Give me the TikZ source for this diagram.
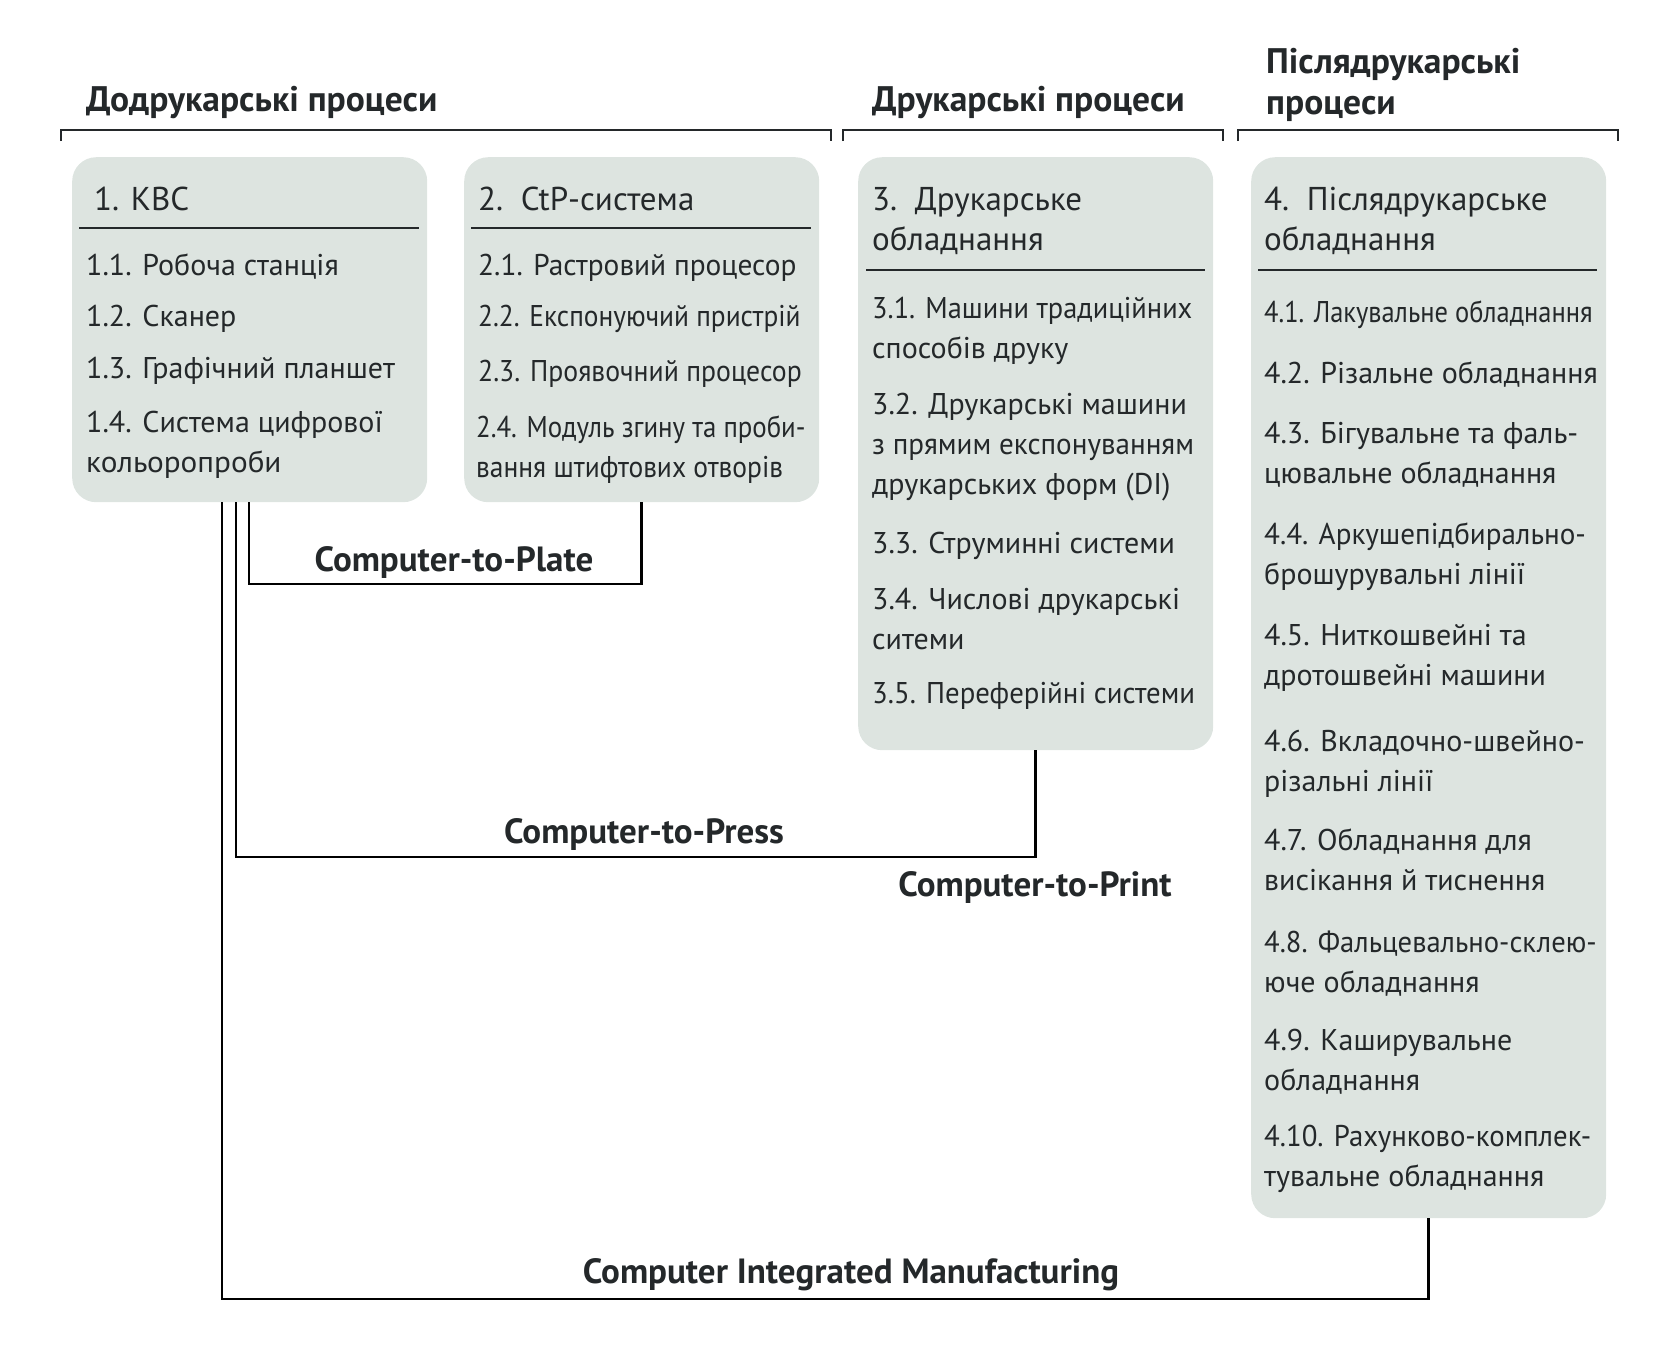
\documentclass[tikz,border=0pt]{standalone}
\usepackage{fontspec}
\usepackage{graphicx}
\setmainfont{PT Sans}
\usetikzlibrary{calc}
\definecolor{txt}{RGB}{36,40,42}
\definecolor{boxfill}{RGB}{221,228,224}
\newcommand\lns[1]{\vtop{\halign{##\hfil\cr#1\crcr}}}
\newcommand\sx[2]{\scalebox{#1}[1]{#2}}
\begin{document}
\begin{tikzpicture}[x=1pt,y=-1pt,
  box/.style={draw=none,fill=boxfill,rounded corners=24pt,anchor=north west,inner sep=0pt},
  item/.style={anchor=base west,inner sep=0pt,text=txt,font=\fontsize{30}{40}\selectfont},
  ttl/.style={anchor=base west,inner sep=0pt,text=txt,font=\fontsize{33}{40}\selectfont},
  head/.style={anchor=base west,inner sep=0pt,text=txt,font=\fontsize{35.5}{41}\selectfont\bfseries},
  lbl/.style={anchor=base,inner sep=0pt,text=txt,font=\fontsize{35}{40}\selectfont\bfseries},
  brace/.style={draw=txt,line width=1.6pt},
  rule/.style={draw=txt,line width=2.6pt},
  conn/.style={draw=black,line width=2.6pt}]
\useasboundingbox (0,0) rectangle (1676,1350);
% headings
\node[head] (h1) at (86,111) {Додрукарські процеси};
\node[head] (h2) at (872,111) {Друкарські процеси};
\node[head] (h3) at (1266,73) {\lns{Післядрукарські\cr процеси}};
\draw[brace] (61,141) -- (61,130) -- (831,130) -- (831,141);
\draw[brace] (843,141) -- (843,130) -- (1223,130) -- (1223,141);
\draw[brace] (1238,141) -- (1238,130) -- (1618,130) -- (1618,141);
% boxes
\node[box,minimum width=355pt,minimum height=345pt] (b1) at (72,157) {};
\node[box,minimum width=355pt,minimum height=345pt] (b2) at (464,157) {};
\node[box,minimum width=355pt,minimum height=593pt] (b3) at (858,157) {};
\node[box,minimum width=355pt,minimum height=1061pt] (b4) at (1251,157) {};
% box 1
\node[ttl] (t1) at (94,210) {1. КВС};
\draw[rule] (79,228) -- (419,228);
\node[item] (i11) at (86,275) {1.1. Робоча станція};
\node[item] (i12) at (86,326) {1.2. Сканер};
\node[item] (i13) at (86,378) {1.3. Графічний планшет};
\node[item] (i14) at (86,432) {\lns{1.4. Система цифрової\cr \sx{1.04}{кольоропроби}}};
% box 2
\node[ttl] (t2) at (478,210) {2.\ \ CtP-система};
\draw[rule] (471,228) -- (811,228);
\node[item] (i21) at (478,275) {\sx{0.98}{2.1. Растровий процесор}};
\node[item] (i22) at (478,326) {\sx{0.912}{2.2. Експонуючий пристрій}};
\node[item] (i23) at (478,381) {\sx{0.924}{2.3. Проявочний процесор}};
\node[item] (i24) at (476,437) {\lns{\sx{0.895}{2.4. Модуль згину та проби-}\cr \sx{0.916}{вання штифтових отворів}}};
% box 3
\node[ttl] (t3) at (872,210) {\lns{3.\ \ Друкарське\cr обладнання}};
\draw[rule] (866,270) -- (1205,270);
\node[item] (i31) at (872,318) {\lns{\sx{0.946}{3.1. Машини традиційних}\cr способів друку}};
\node[item] (i32) at (872,414) {\lns{3.2. Друкарські машини\cr \sx{0.97}{з прямим експонуванням}\cr друкарських форм (DI)}};
\node[item] (i33) at (872,553) {3.3. Струминні системи};
\node[item] (i34) at (872,609) {\lns{3.4. Числові друкарські\cr ситеми}};
\node[item] (i35) at (872,703) {\sx{0.96}{3.5. Переферійні системи}};
% box 4
\node[ttl] (t4) at (1264,210) {\lns{4.\ \ Післядрукарське\cr обладнання}};
\draw[rule] (1258,270) -- (1597,270);
\node[item] (i41) at (1264,322) {\sx{0.882}{4.1. Лакувальне обладнання}};
\node[item] (i42) at (1264,383) {4.2. Різальне обладнання};
\node[item] (i43) at (1264,443) {\lns{4.3. Бігувальне та фаль-\cr цювальне обладнання}};
\node[item] (i44) at (1264,544) {\lns{\sx{0.97}{4.4. Аркушепідбирально-}\cr брошурувальні лінії}};
\node[item] (i45) at (1264,645) {\lns{4.5. Ниткошвейні та\cr дротошвейні машини}};
\node[item] (i46) at (1264,751) {\lns{4.6. Вкладочно-швейно-\cr різальні лінії}};
\node[item] (i47) at (1264,850) {\lns{4.7. Обладнання для\cr висікання й тиснення}};
\node[item] (i48) at (1264,952) {\lns{\sx{0.954}{4.8. Фальцевально-склею-}\cr юче обладнання}};
\node[item] (i49) at (1264,1050) {\lns{4.9. Каширувальне\cr обладнання}};
\node[item] (i410) at (1264,1146) {\lns{\sx{0.96}{4.10. Рахунково-комплек-}\cr тувальне обладнання}};
% connectors
\coordinate (plateY) at (0,584);
\coordinate (pressY) at (0,857);
\coordinate (cimY) at (0,1299);
\draw[conn] ([xshift=177pt]b1.south west) |- (b2.south |- plateY) -- (b2.south);
\draw[conn] ([xshift=164pt]b1.south west) |- (b3.south |- pressY) -- (b3.south);
\draw[conn] ([xshift=150pt]b1.south west) |- (b4.south |- cimY) -- (b4.south);
% labels
\node[lbl] (lplate) at (454,571) {Computer-to-Plate};
\node[lbl] (lpress) at (644,843) {Computer-to-Press};
\node[lbl] (lprint) at (1035,896) {Computer-to-Print};
\node[lbl] (lcim) at (851,1283) {Computer Integrated Manufacturing};
\end{tikzpicture}
\end{document}
